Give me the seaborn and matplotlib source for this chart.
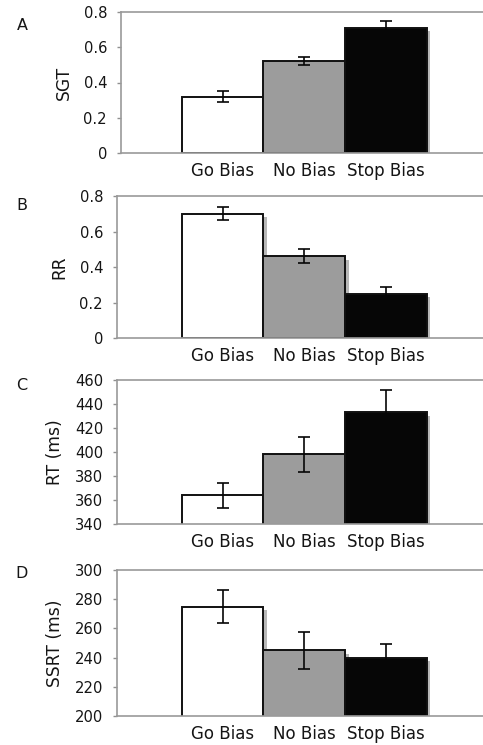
import numpy as np
import pandas as pd
import seaborn as sns
import matplotlib
matplotlib.use("Agg")
from matplotlib import pyplot as plt
from matplotlib import patheffects as pe

# data
conditions = ["Go Bias", "No Bias", "Stop Bias"]
panel_letters = ["A", "B", "C", "D"]
ylabels = ["SGT", "RR", "RT (ms)", "SSRT (ms)"]

sgt_mean = [0.32, 0.52, 0.71]
sgt_err = [0.03, 0.022, 0.038]
rr_mean = [0.70, 0.46, 0.25]
rr_err = [0.038, 0.04, 0.037]
rt_mean = [364, 398, 433]
rt_err = [10.5, 14.7, 19]
ssrt_mean = [275, 245, 240]
ssrt_err = [11, 12.5, 9]

yranges = [(0, 0.8), (0, 0.8), (340, 460), (200, 300)]
yticks = [
    [0, 0.2, 0.4, 0.6, 0.8],
    [0, 0.2, 0.4, 0.6, 0.8],
    [340, 360, 380, 400, 420, 440, 460],
    [200, 220, 240, 260, 280, 300],
]
ytick_labels = [
    ["0", "0.2", "0.4", "0.6", "0.8"],
    ["0", "0.2", "0.4", "0.6", "0.8"],
    ["340", "360", "380", "400", "420", "440", "460"],
    ["200", "220", "240", "260", "280", "300"],
]

bar_colors = ["#ffffff", "#9c9c9c", "#060606"]

means = [sgt_mean, rr_mean, rt_mean, ssrt_mean]
errs = [sgt_err, rr_err, rt_err, ssrt_err]

sns.set_style("white")
plt.rcParams["font.family"] = ["DejaVu Sans"]

W, H = 483, 745
fig = plt.figure(figsize=(W / 100, H / 100), dpi=100)

# axes boxes in pixels: (left, top, bottom)
boxes = [(121, 12, 153), (117, 196, 338), (117, 380, 524), (117, 570, 716)]
letter_y = [25, 205, 385, 573]
right_px = 483
bar0_px, bar_step = 222.5, 81.8   # where category 0 sits, px per category

for i in range(4):
    left, top, bot = boxes[i]
    ax = fig.add_axes([left / W, 1 - bot / H, (right_px - left) / W, (bot - top) / H])
    df = pd.DataFrame({"cond": conditions, "val": means[i]})
    sns.barplot(data=df, x="cond", y="val", hue="cond", palette=bar_colors,
                order=conditions, hue_order=conditions, width=1.0, errorbar=None,
                legend=False, edgecolor="#111111", linewidth=1.4, ax=ax)
    for p in ax.patches:
        p.set_path_effects([pe.SimplePatchShadow(offset=(2.5, -2.5), shadow_rgbFace="#b8b8b8", alpha=1),
                            pe.Normal()])
    ax.errorbar(np.arange(3), means[i], yerr=errs[i], fmt="none", ecolor="#060606",
                elinewidth=1.2, capsize=4, capthick=1.2, zorder=5)

    ax.set_xlim((left - bar0_px) / bar_step, (right_px - bar0_px) / bar_step)
    ax.set_ylim(*yranges[i])
    ax.set_yticks(yticks[i])
    ax.set_yticklabels(ytick_labels[i])
    ax.set_xlabel("")
    ax.set_ylabel(ylabels[i], fontsize=12.3, labelpad=8, color="#151515")
    ax.tick_params(axis="y", left=True, length=3, width=1, color="#909090",
                   labelsize=10.6, pad=7, labelcolor="#151515")
    ax.tick_params(axis="x", bottom=False, labelsize=12, pad=3, labelcolor="#151515")
    for s in ["top", "bottom", "left"]:
        ax.spines[s].set_color("#9a9a9a")
        ax.spines[s].set_linewidth(1.2)
    ax.spines["right"].set_visible(False)

    fig.text(22 / W, 1 - letter_y[i] / H, panel_letters[i], fontsize=11.5,
             ha="center", va="center", color="#151515")

fig.savefig("out.png", dpi=100)
